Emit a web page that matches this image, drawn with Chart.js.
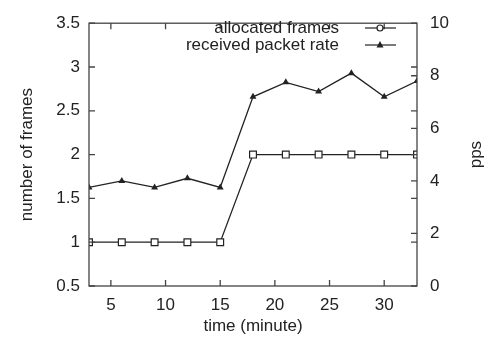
<!DOCTYPE html>
<html>
<head>
<meta charset="utf-8">
<script src="https://cdn.jsdelivr.net/npm/chart.js@4.4.1/dist/chart.umd.min.js"></script>
<style>
  body { margin: 0; background: #fff; }
  #wrap { width: 491px; height: 343px; }
</style>
</head>
<body>
<div id="wrap"><canvas id="myChart"></canvas></div>
<script>
// data
const minutes = [3, 6, 9, 12, 15, 18, 21, 24, 27, 30, 33];
const frames = [1, 1, 1, 1, 1, 2, 2, 2, 2, 2, 2];
const packetRate = [3.75, 4.0, 3.75, 4.1, 3.75, 7.2, 7.75, 7.4, 8.1, 7.2, 7.8];
const xTicks = [5, 10, 15, 20, 25, 30];
const seriesNames = ["allocated frames", "received packet rate"];

const FONT = "'Liberation Sans', Arial, Helvetica, sans-serif";
const ink = "#222";
const axisInk = "#444";

// gnuplot-like frame: box around plot, ticks pointing inward, mirrored ticks
const framePlugin = {
  id: "frame",
  afterDatasetsDraw(chart) {
    const ctx = chart.ctx;
    const a = chart.chartArea;
    const sx = chart.scales.x, sy = chart.scales.y, sy2 = chart.scales.y2;
    const len = 6;
    ctx.save();
    ctx.strokeStyle = axisInk;
    ctx.lineWidth = 1.3;
    ctx.strokeRect(a.left, a.top, a.right - a.left, a.bottom - a.top);
    ctx.beginPath();
    sx.ticks.forEach(t => {
      const px = sx.getPixelForValue(t.value);
      ctx.moveTo(px, a.bottom); ctx.lineTo(px, a.bottom - len);
      ctx.moveTo(px, a.top); ctx.lineTo(px, a.top + len);
    });
    sy.ticks.forEach(t => {
      const py = sy.getPixelForValue(t.value);
      ctx.moveTo(a.left, py); ctx.lineTo(a.left + len, py);
      ctx.moveTo(a.right, py); ctx.lineTo(a.right - len, py);
    });
    sy2.ticks.forEach(t => {
      const py = sy2.getPixelForValue(t.value);
      ctx.moveTo(a.right, py); ctx.lineTo(a.right - len, py);
    });
    ctx.stroke();

    // right axis title, reading bottom to top like the left one
    ctx.fillStyle = ink;
    ctx.font = "17px " + FONT;
    ctx.textAlign = "center";
    ctx.textBaseline = "middle";
    ctx.translate(476.5, (a.top + a.bottom) / 2);
    ctx.rotate(-Math.PI / 2);
    ctx.fillText("pps", 0, 0);
    ctx.restore();

    // key in the top right corner, text left of the sample
    ctx.save();
    ctx.font = "17px " + FONT;
    ctx.fillStyle = ink;
    ctx.textAlign = "right";
    ctx.textBaseline = "middle";
    const rows = [28, 45];
    chart.data.datasets.forEach((ds, i) => {
      const y = rows[i];
      ctx.fillText(ds.label, 339, y);
      ctx.strokeStyle = ink;
      ctx.lineWidth = 1.2;
      ctx.beginPath();
      ctx.moveTo(365, y); ctx.lineTo(396, y);
      ctx.stroke();
      const cx = 380;
      if (i === 0) {
        ctx.fillStyle = "#fff";
        ctx.beginPath(); ctx.arc(cx, y, 3, 0, Math.PI * 2); ctx.fill(); ctx.stroke();
        ctx.fillStyle = ink;
      } else {
        ctx.beginPath();
        ctx.moveTo(cx, y - 4); ctx.lineTo(cx + 3.5, y + 2.5); ctx.lineTo(cx - 3.5, y + 2.5);
        ctx.closePath(); ctx.fill();
      }
    });
    ctx.restore();
  }
};

const plainNum = v => String(v);

let ctx = document.getElementById("myChart").getContext("2d");

let chart = new Chart(ctx, {
  type: "line",
  data: {
    datasets: [
      {
        label: seriesNames[0],
        data: minutes.map((m, i) => ({ x: m, y: frames[i] })),
        yAxisID: "y",
        borderColor: ink,
        borderWidth: 1.3,
        pointStyle: "rect",
        pointRadius: 4.8,
        pointBorderWidth: 1.2,
        pointBackgroundColor: "#fff",
        pointBorderColor: ink,
        tension: 0
      },
      {
        label: seriesNames[1],
        data: minutes.map((m, i) => ({ x: m, y: packetRate[i] })),
        yAxisID: "y2",
        borderColor: ink,
        borderWidth: 1.3,
        pointStyle: "triangle",
        pointRadius: 4,
        pointBorderWidth: 0,
        pointBackgroundColor: ink,
        tension: 0
      }
    ]
  },
  options: {
    responsive: true,
    maintainAspectRatio: false,
    animation: false,
    events: [],
    layout: { padding: { top: 14, left: 0, right: 0, bottom: 0 } },
    plugins: {
      legend: { display: false },
      tooltip: { enabled: false }
    },
    scales: {
      x: {
        type: "linear",
        position: "bottom",
        min: 3,
        max: 33,
        afterBuildTicks: s => { s.ticks = xTicks.map(v => ({ value: v })); },
        afterFit: s => { s.height = 57; },
        grid: { display: false, drawTicks: false },
        border: { display: false },
        ticks: { color: ink, font: { family: FONT, size: 17 }, padding: 9, maxRotation: 0, autoSkip: false, callback: plainNum },
        title: { display: true, text: "time (minute)", color: ink, font: { family: FONT, size: 17 }, padding: { top: 0, bottom: 6 } }
      },
      y: {
        position: "left",
        min: 0.5,
        max: 3.5,
        afterFit: s => { s.width = 89; },
        grid: { display: false, drawTicks: false },
        border: { display: false },
        ticks: { stepSize: 0.5, color: ink, font: { family: FONT, size: 17 }, padding: 9, callback: plainNum },
        title: { display: true, text: "number of frames", color: ink, font: { family: FONT, size: 17 }, padding: { top: 17, bottom: 0 } }
      },
      y2: {
        position: "right",
        min: 0,
        max: 10,
        afterFit: s => { s.width = 74; },
        grid: { display: false, drawTicks: false },
        border: { display: false },
        ticks: { stepSize: 2, color: ink, font: { family: FONT, size: 17 }, padding: 13, callback: plainNum }
      }
    }
  },
  plugins: [framePlugin]
});
</script>
</body>
</html>
